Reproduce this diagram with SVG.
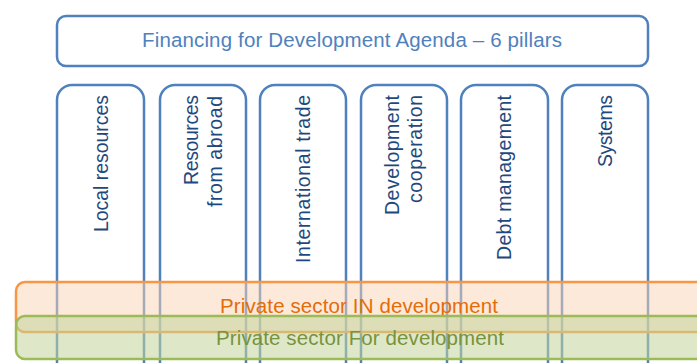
<svg xmlns="http://www.w3.org/2000/svg" width="697" height="363" viewBox="0 0 697 363">
  <style>
    .box { fill: #FFFFFF; stroke: #4F81BD; stroke-width: 2.5; }
    .title { font-family: "Liberation Sans", Arial, sans-serif; font-size: 20.5px; fill: #4F81BD; text-anchor: middle; }
    .pt { font-family: "Liberation Sans", Arial, sans-serif; font-size: 19.5px; fill: #1F497D; text-anchor: end; }
    .bandO { fill: #FBD4B4; fill-opacity: 0.5; stroke: #F79646; stroke-width: 2.5; }
    .bandG { fill: #C3D69B; fill-opacity: 0.55; stroke: #9BBB59; stroke-width: 2.5; }
    .tO { font-family: "Liberation Sans", Arial, sans-serif; font-size: 20.5px; fill: #E46C0A; text-anchor: middle; }
    .tG { font-family: "Liberation Sans", Arial, sans-serif; font-size: 20.5px; fill: #77933C; text-anchor: middle; }
  </style>
  <rect width="697" height="363" fill="#FFFFFF"/>
  <g id="title">
    <rect class="box" x="57" y="16" width="591" height="50" rx="9"/>
    <text class="title" x="352" y="47" textLength="420">Financing for Development Agenda – 6 pillars</text>
  </g>
  <g id="pillar-local-resources">
    <rect class="box" x="57" y="85" width="87" height="320" rx="15"/>
    <text class="pt" transform="translate(108,95) rotate(-90)" textLength="137">Local resources</text>
  </g>
  <g id="pillar-resources-abroad">
    <rect class="box" x="160" y="85" width="86" height="320" rx="15"/>
    <text class="pt" transform="translate(198,95) rotate(-90)" textLength="90">Resources</text>
    <text class="pt" transform="translate(222,96) rotate(-90)" textLength="111">from abroad</text>
  </g>
  <g id="pillar-international-trade">
    <rect class="box" x="260" y="85" width="86" height="320" rx="15"/>
    <text class="pt" transform="translate(310,95) rotate(-90)" textLength="168">International trade</text>
  </g>
  <g id="pillar-development-cooperation">
    <rect class="box" x="361" y="85" width="86" height="320" rx="15"/>
    <text class="pt" transform="translate(399,95) rotate(-90)" textLength="120">Development</text>
    <text class="pt" transform="translate(422,95) rotate(-90)" textLength="108">cooperation</text>
  </g>
  <g id="pillar-debt-management">
    <rect class="box" x="461" y="85" width="87" height="320" rx="15"/>
    <text class="pt" transform="translate(511,95) rotate(-90)" textLength="165">Debt management</text>
  </g>
  <g id="pillar-systems">
    <rect class="box" x="562" y="85" width="86" height="320" rx="15"/>
    <text class="pt" transform="translate(612,95) rotate(-90)" textLength="72">Systems</text>
  </g>
  <g id="band-private-in">
    <rect class="bandO" x="16" y="282" width="720" height="50" rx="9"/>
    <text class="tO" x="359" y="313" textLength="278">Private sector IN development</text>
  </g>
  <g id="band-private-for">
    <rect class="bandG" x="16" y="316" width="720" height="43" rx="9"/>
    <text class="tG" x="360" y="345" textLength="288">Private sector For development</text>
  </g>
  <g id="connectors"/>
</svg>
